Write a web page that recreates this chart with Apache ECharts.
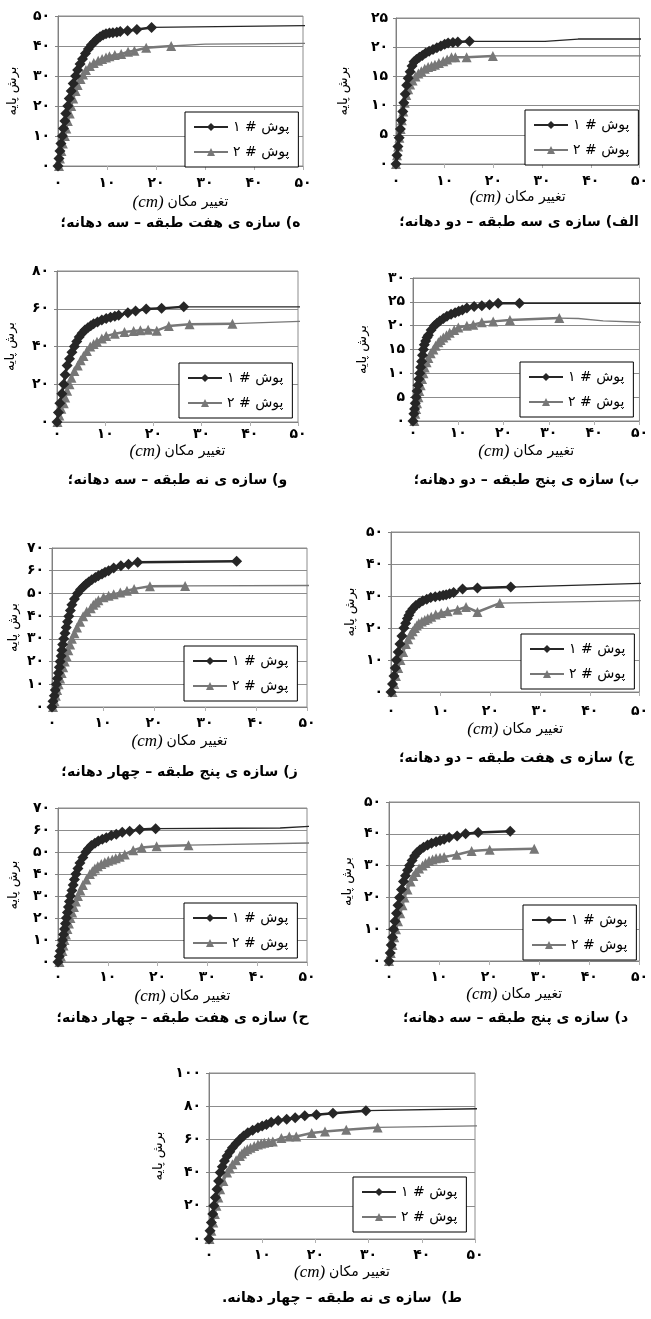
<!DOCTYPE html>
<html>
<head>
<meta charset="utf-8">
<script src="https://cdn.jsdelivr.net/npm/echarts@6/dist/echarts.min.js"></script>
<style>
  html, body { margin: 0; padding: 0; background: #fff; }
  #chart { width: 651px; height: 1319px; }
</style>
</head>
<body>
<div id="chart"></div>
<script>
// Series names and captions
const push1Name = "پوش # ۱";
const push2Name = "پوش # ۲";
const yName = "برش پایه";
const xName = "تغییر مکان";

const captions = [
  "ه) سازه ی هفت طبقه – سه دهانه؛",
  "الف) سازه ی سه طبقه – دو دهانه؛",
  "و) سازه ی نه طبقه – سه دهانه؛",
  "ب) سازه ی پنج طبقه – دو دهانه؛",
  "ز) سازه ی پنج طبقه – چهار دهانه؛",
  "ج) سازه ی هفت طبقه – دو دهانه؛",
  "ح) سازه ی هفت طبقه – چهار دهانه؛",
  "د) سازه ی پنج طبقه – سه دهانه؛",
  "ط)  سازه ی نه طبقه – چهار دهانه.\u200F",
];

// y axis range per panel [max, step]
const yRanges = [[50, 10], [25, 5], [80, 20], [30, 5], [70, 10], [50, 10], [70, 10], [50, 10], [100, 20]];

// ه) 7 story - 3 bay
const hePush1 = [[0,0],[0.2,2.5],[0.4,5],[0.6,7.5],[0.9,10],[1.1,12.5],[1.4,15],[1.6,17.5],[2.0,20],[2.3,22.5],[2.7,25],[3.1,27.5],[3.6,30],[4.0,32],[4.5,34],[5.0,35.7],[5.6,37.5],[6.2,39],[6.8,40.3],[7.4,41.3],[8.0,42.3],[8.6,43.1],[9.2,43.7],[9.8,44.1],[10.5,44.3],[11.2,44.4],[12.0,44.6],[12.7,44.8],[14.2,45.1],[16.1,45.5],[19.1,46.2]];
const hePush2 = [[0.2,0],[0.4,2.5],[0.7,5],[1.0,7.5],[1.4,10],[1.7,12.5],[2.0,15],[2.4,17.5],[2.7,20],[3.1,22.5],[3.6,25],[4.0,27],[4.6,29],[5.1,30.5],[5.7,32],[6.5,33.3],[7.3,34.3],[8.2,35.1],[9.0,35.7],[9.8,36.2],[10.5,36.6],[11.6,37.0],[12.9,37.3],[14.3,38.1],[15.6,38.4],[18.0,39.4],[23.1,40.0]];
const heTail1 = [[19.1,46.2],[51.2,46.8]];
const heTail2 = [[23.1,40.0],[30,40.6],[51.2,40.9]];

// الف) 3 story - 2 bay
const alefPush1 = [[0,0],[0.2,1.5],[0.4,3],[0.65,4.5],[0.9,6],[1.1,7.5],[1.4,9],[1.6,10.5],[1.9,12],[2.2,13.5],[2.5,14.7],[2.9,15.8],[3.3,16.8],[3.7,17.5],[4.2,17.9],[4.8,18.3],[5.4,18.6],[6.1,19.0],[6.8,19.3],[7.6,19.6],[8.4,19.9],[9.2,20.2],[10.0,20.5],[10.7,20.7],[11.7,20.8],[12.7,20.9],[15.1,21.0]];
const alefPush2 = [[0,0],[0.2,1.5],[0.45,3],[0.7,4.5],[0.95,6],[1.2,7.5],[1.5,9],[1.8,10.5],[2.1,11.8],[2.5,12.8],[2.9,13.6],[3.4,14.3],[4.0,15.0],[4.6,15.5],[5.2,15.9],[5.9,16.3],[6.6,16.6],[7.3,16.8],[8.0,17.0],[8.8,17.3],[9.7,17.6],[10.5,17.9],[11.4,18.3],[12.2,18.3],[14.5,18.3],[19.9,18.5]];
const alefTail1 = [[15.1,21.0],[30.6,21.0],[37.4,21.4],[51.8,21.4]];
const alefTail2 = [[19.9,18.5],[51.8,18.5]];

// و) 9 story - 3 bay
const vavPush1 = [[0,0],[0.3,5],[0.6,10],[1.0,15],[1.4,20],[1.7,25],[2.1,30],[2.6,33.5],[3.1,37],[3.6,40],[4.1,42.7],[4.6,45],[5.2,47],[5.8,48.7],[6.4,50],[7.0,51],[7.6,52],[8.4,53],[9.3,54],[10.2,54.8],[11.1,55.5],[12.0,56],[12.8,56.5],[14.7,57.9],[16.3,58.8],[18.5,59.9],[21.7,60.2],[26.3,61.0]];
const vavPush2 = [[0.1,0],[0.5,3.5],[0.9,7],[1.4,10],[1.7,13],[2.1,16.5],[2.6,20],[3.0,23.5],[3.6,27],[4.3,30],[4.9,32.7],[5.5,35],[6.2,37.6],[6.9,40],[7.6,41.3],[8.3,42.5],[9.3,44.3],[10.2,45.5],[12.0,46.8],[14.0,47.7],[15.9,48.2],[17.3,48.6],[18.9,48.9],[20.7,48.4],[23.2,50.9],[27.5,51.8],[36.4,52.1]];
const vavTail1 = [[26.3,61.0],[50.8,61.0]];
const vavTail2 = [[36.4,52.1],[50.8,53.3]];

// ب) 5 story - 2 bay
const bePush1 = [[0,0],[0.2,1.5],[0.35,2.5],[0.5,3.7],[0.7,5],[0.9,6.3],[1.1,7.5],[1.3,8.8],[1.5,10],[1.7,11.3],[1.9,12.5],[2.1,13.8],[2.3,15],[2.5,16],[2.8,16.8],[3.1,17.5],[3.4,18],[4.0,19.1],[4.7,20],[5.3,20.5],[5.9,21],[6.7,21.5],[7.5,22],[8.4,22.4],[9.3,22.7],[10.1,23.0],[10.9,23.3],[11.9,23.7],[13.5,24.0],[15.2,24.2],[16.9,24.4],[18.8,24.7],[23.5,24.7]];
const bePush2 = [[0.3,0],[0.5,1.5],[0.7,2.5],[0.9,3.7],[1.2,5],[1.4,6.3],[1.7,7.5],[2.0,8.8],[2.3,10],[2.6,11.2],[3.0,12.3],[3.4,13.2],[3.9,14.2],[4.5,15],[5.0,15.8],[5.6,16.5],[6.1,17],[6.7,17.5],[7.4,18],[8.1,18.5],[9.1,19.1],[10.0,19.6],[11.9,20.0],[13.3,20.2],[15.2,20.7],[17.7,20.9],[21.4,21.2],[32.3,21.6]];
const beTail1 = [[23.5,24.7],[50.7,24.7]];
const beTail2 = [[32.3,21.6],[36.5,21.5],[42,21.0],[50.7,20.7]];

// ز) 5 story - 4 bay
const zePush1 = [[0,0],[0.2,2.5],[0.45,5],[0.65,7.5],[0.85,10],[1.05,12.5],[1.25,15],[1.45,17.5],[1.6,20],[1.8,22.5],[1.95,25],[2.1,27.5],[2.3,30],[2.55,32.5],[2.8,35],[3.05,37.5],[3.3,40],[3.6,42.5],[3.9,45],[4.4,47.5],[5.0,50],[5.6,51.7],[6.2,53],[6.7,54.1],[7.2,55],[7.8,56],[8.5,57],[9.1,57.8],[9.8,58.5],[10.4,59.3],[11.1,60],[12.1,61.2],[13.5,62.2],[15.0,62.8],[16.8,63.7],[36.2,64.2]];
const zePush2 = [[0.2,0],[0.5,2.5],[0.75,5],[1.0,7.5],[1.3,10],[1.6,12.5],[1.9,15],[2.2,17.5],[2.5,20],[2.85,22.5],[3.2,25],[3.55,27.5],[3.9,30],[4.4,32.5],[4.9,35],[5.5,37.5],[6.1,40],[6.8,42],[7.6,43.5],[8.1,45],[8.6,46],[9.1,47],[10.1,48.3],[11.1,49.0],[12.1,49.6],[13.4,50.4],[14.7,51.2],[16.1,52.0],[19.2,53.2],[26.1,53.3]];
const zeTail1 = [];
const zeTail2 = [[26.1,53.3],[51.0,53.5]];

// ج) 7 story - 2 bay
const jimPush1 = [[0,0],[0.3,2.5],[0.6,5],[0.85,7.5],[1.1,10],[1.45,12.5],[1.8,15],[2.2,17.5],[2.6,20],[2.95,21.5],[3.3,23],[3.6,24],[3.9,25],[4.4,26],[5.0,27],[5.7,27.8],[6.4,28.5],[7.2,29],[8.0,29.5],[8.9,29.8],[9.8,30.0],[10.5,30.2],[11.1,30.4],[11.8,30.7],[12.6,31.1],[14.4,32.2],[17.4,32.5],[24.1,32.8]];
const jimPush2 = [[0.3,0],[0.65,2.5],[1.0,5],[1.45,7.5],[1.9,10],[2.45,12.5],[3.0,15],[3.45,16.5],[3.9,18],[4.35,19],[4.8,20],[5.2,20.8],[5.6,21.5],[6.2,22],[6.8,22.5],[7.4,23],[8.1,23.5],[9.0,24.2],[10.1,24.7],[11.4,25.2],[13.4,25.7],[15.1,26.6],[17.4,25.0],[21.9,27.8]];
const jimTail1 = [[24.1,32.8],[50.9,34.0]];
const jimTail2 = [[21.9,27.8],[50.9,28.6]];

// ح) 7 story - 4 bay
const hhePush1 = [[0,0],[0.25,2.5],[0.45,5],[0.7,7.5],[0.9,10],[1.1,12.5],[1.3,15],[1.5,17.5],[1.7,20],[1.9,22.5],[2.1,25],[2.3,27.5],[2.5,30],[2.8,32.5],[3.05,35],[3.3,37.5],[3.6,40],[4.0,42.5],[4.4,45],[5.0,47.5],[5.6,50],[6.1,51.5],[6.7,53],[7.4,54],[8.1,55],[8.9,55.8],[9.7,56.5],[10.7,57.5],[11.7,58.1],[12.9,59.0],[14.4,59.4],[16.4,60.2],[19.6,60.6]];
const hhePush2 = [[0.3,0],[0.6,2.5],[0.9,5],[1.1,7.5],[1.3,10],[1.6,12.5],[1.9,15],[2.2,17.5],[2.5,20],[2.85,22.5],[3.2,25],[3.6,27.5],[4.0,30],[4.5,32.5],[5.0,35],[5.7,37.5],[6.4,40],[6.9,41.3],[7.4,42.5],[8.0,43.5],[8.7,44.5],[9.4,45.3],[10.1,46],[10.9,46.6],[11.6,47.2],[12.4,47.8],[13.4,48.9],[15.1,50.8],[16.8,52.0],[19.8,52.6],[26.2,53.1]];
const hheTail1 = [[19.6,60.6],[44.6,60.9],[50.9,61.7]];
const hheTail2 = [[26.2,53.1],[50.9,54.1]];

// د) 5 story - 3 bay
const dalPush1 = [[0,0],[0.25,2.5],[0.45,5],[0.7,7.5],[0.9,10],[1.2,12.5],[1.5,15],[1.8,17.5],[2.1,20],[2.5,22.5],[2.9,25],[3.3,26.8],[3.7,28.5],[4.1,30],[4.6,31.6],[5.1,33],[5.6,34.1],[6.2,35],[6.9,35.8],[7.7,36.5],[8.5,37],[9.4,37.5],[10.2,37.9],[11.0,38.3],[12.0,38.8],[13.6,39.3],[15.3,40.0],[17.8,40.4],[24.2,40.8]];
const dalPush2 = [[0,0],[0.35,2.5],[0.7,5],[1.05,7.5],[1.4,10],[1.8,12.5],[2.25,15],[2.7,17.5],[3.1,20],[3.7,22.5],[4.3,25],[4.85,26.7],[5.4,28],[6.0,29.1],[6.7,30],[7.3,30.8],[8.0,31.5],[8.7,31.9],[9.4,32.3],[10.2,32.5],[11.0,32.7],[13.5,33.4],[16.5,34.6],[20.1,35.0],[29.0,35.3]];
const dalTail1 = [];
const dalTail2 = [];

// ط) 9 story - 4 bay
const taPush1 = [[0,0],[0.2,5],[0.45,10],[0.7,15],[0.9,20],[1.2,25],[1.5,30],[1.8,35],[2.1,40],[2.5,43.5],[2.9,47],[3.4,50],[3.9,52.5],[4.4,55],[5.1,57.5],[5.8,60],[6.5,62],[7.3,64],[8.2,65.5],[9.2,67],[10.0,68],[10.8,69],[11.7,70.3],[13.0,71.4],[14.6,72.2],[16.2,73.0],[18.0,74.2],[20.2,74.8],[23.3,75.7],[29.5,77.3]];
const taPush2 = [[0.1,0],[0.45,5],[0.8,10],[1.1,15],[1.4,20],[1.75,25],[2.1,30],[2.7,35],[3.4,40],[3.9,42.5],[4.4,45],[5.1,47.5],[5.8,50],[6.2,51.5],[6.7,53],[7.2,54],[7.8,55],[8.5,56],[9.2,57],[9.8,57.5],[10.4,58],[11.2,58.4],[12.0,58.8],[13.6,60.8],[15.1,61.8],[16.4,61.8],[19.3,63.8],[21.8,64.8],[25.8,65.8],[31.7,67.2]];
const taTail1 = [[29.5,77.3],[50.9,78.5]];
const taTail2 = [[31.7,67.2],[50.9,68.2]];

const push1Data = [hePush1, alefPush1, vavPush1, bePush1, zePush1, jimPush1, hhePush1, dalPush1, taPush1];
const push2Data = [hePush2, alefPush2, vavPush2, bePush2, zePush2, jimPush2, hhePush2, dalPush2, taPush2];
const tail1Data = [heTail1, alefTail1, vavTail1, beTail1, zeTail1, jimTail1, hheTail1, dalTail1, taTail1];
const tail2Data = [heTail2, alefTail2, vavTail2, beTail2, zeTail2, jimTail2, hheTail2, dalTail2, taTail2];

// Layout of each panel (pixels): plot box, legend corner, label margin, name offsets, caption y
const layout = [
  { box: [58, 16, 303, 166], legend: [185, 112], labelGap: 10, xNameY: 37, yNameGap: 39, capY: 223 },
  { box: [396, 18, 642, 164], legend: [525, 110], labelGap: 10, xNameY: 34, yNameGap: 46, capY: 222 },
  { box: [57, 271, 298, 422], legend: [179, 363], labelGap: 5, xNameY: 30, yNameGap: 40, capY: 480 },
  { box: [413, 278, 640, 421], legend: [520, 362], labelGap: 5, xNameY: 31, yNameGap: 44, capY: 480 },
  { box: [52, 548, 307, 707], legend: [184, 646], labelGap: 9, xNameY: 35, yNameGap: 32, capY: 772 },
  { box: [391, 532, 642, 692], legend: [521, 634], labelGap: 12, xNameY: 38, yNameGap: 34, capY: 758 },
  { box: [58, 808, 307, 962], legend: [184, 903], labelGap: 8, xNameY: 35, yNameGap: 38, capY: 1018 },
  { box: [389, 802, 642, 961], legend: [523, 905], labelGap: 9, xNameY: 34, yNameGap: 35, capY: 1018 },
  { box: [209, 1073, 475, 1239], legend: [353, 1177], labelGap: 9, xNameY: 34, yNameGap: 44, capY: 1298 },
];

const DARK = "#262626";
const GRAY = "#777777";
const FONT = "DejaVu Sans";
const faDigits = "۰۱۲۳۴۵۶۷۸۹";
const toFa = (v) => String(v).replace(/\d/g, (d) => faDigits[d]);

const chart = echarts.init(document.getElementById("chart"), null, { renderer: "canvas" });

const grids = [], xAxes = [], yAxes = [], series = [], legends = [], texts = [];

layout.forEach((p, i) => {
  const [x0, y0, x1, y1] = p.box;
  grids.push({
    left: x0, top: y0, width: x1 - x0, height: y1 - y0,
    show: true, borderColor: "#8c8c8c", borderWidth: 1, backgroundColor: "#fff",
  });
  xAxes.push({
    type: "value", gridIndex: i, min: 0, max: 50, interval: 10,
    axisLine: { show: true, onZero: false, lineStyle: { color: "#808080" } },
    axisTick: { show: true, length: 4, lineStyle: { color: "#b0b0b0" } },
    splitLine: { show: false },
    axisLabel: {
      margin: p.labelGap, color: "#000", fontFamily: FONT, fontSize: 14, fontWeight: "bold",
      formatter: toFa,
    },
    name: "{c|(cm)} {p|" + xName + "}",
    nameLocation: "middle",
    nameGap: p.xNameY - 9,
    nameTextStyle: {
      rich: {
        c: { fontFamily: "Liberation Serif", fontStyle: "italic", fontSize: 17, color: "#000" },
        p: { fontFamily: FONT, fontSize: 14, color: "#000" },
      },
    },
  });
  const [ymax, ystep] = yRanges[i];
  yAxes.push({
    type: "value", gridIndex: i, min: 0, max: ymax, interval: ystep,
    axisLine: { show: true, lineStyle: { color: "#808080" } },
    axisTick: { show: true, length: 3, lineStyle: { color: "#808080" } },
    splitLine: { show: true, lineStyle: { color: "#8c8c8c", width: 1 } },
    axisLabel: {
      margin: 8, color: "#000", fontFamily: FONT, fontSize: 14, fontWeight: "bold",
      formatter: toFa,
    },
    name: yName,
    nameLocation: "middle",
    nameRotate: 90,
    nameGap: p.yNameGap,
    nameTextStyle: { fontFamily: FONT, fontSize: 13, color: "#000" },
  });

  series.push({
    name: push1Name, type: "line", xAxisIndex: i, yAxisIndex: i,
    data: push1Data[i], symbol: "diamond", symbolSize: 11, showAllSymbol: true,
    clip: false, z: 3,
    itemStyle: { color: DARK }, lineStyle: { color: DARK, width: 2.5 },
  });
  series.push({
    name: push2Name, type: "line", xAxisIndex: i, yAxisIndex: i,
    data: push2Data[i], symbol: "triangle", symbolSize: 10, showAllSymbol: true,
    clip: false, z: 2,
    itemStyle: { color: GRAY }, lineStyle: { color: GRAY, width: 2.5 },
  });
  if (tail1Data[i].length) {
    series.push({
      name: "tail1", type: "line", xAxisIndex: i, yAxisIndex: i,
      data: tail1Data[i], symbol: "none", clip: false, z: 1,
      lineStyle: { color: DARK, width: 1.3 },
    });
  }
  if (tail2Data[i].length) {
    series.push({
      name: "tail2", type: "line", xAxisIndex: i, yAxisIndex: i,
      data: tail2Data[i], symbol: "none", clip: false, z: 1,
      lineStyle: { color: GRAY, width: 1.3 },
    });
  }

  legends.push({
    left: p.legend[0], top: p.legend[1], orient: "vertical",
    data: [push1Name, push2Name], selectedMode: false,
    itemWidth: 34, itemHeight: 10, itemGap: 11, padding: [8, 9, 8, 8],
    borderColor: "#000", borderWidth: 1, backgroundColor: "#fff",
    textStyle: { fontFamily: FONT, fontSize: 14, color: "#000" },
    z: 10,
  });

  texts.push({
    type: "text",
    style: {
      text: captions[i], x: (x0 + x1) / 2, y: p.capY,
      textAlign: "center", align: "center", textVerticalAlign: "middle", verticalAlign: "middle",
      fontFamily: FONT, fontSize: 14, fontWeight: "bold", fill: "#000",
    },
  });
});

chart.setOption({
  animation: false,
  backgroundColor: "#fff",
  textStyle: { fontFamily: FONT },
  grid: grids,
  xAxis: xAxes,
  yAxis: yAxes,
  legend: legends,
  series: series,
  graphic: { elements: texts },
});
</script>
</body>
</html>
